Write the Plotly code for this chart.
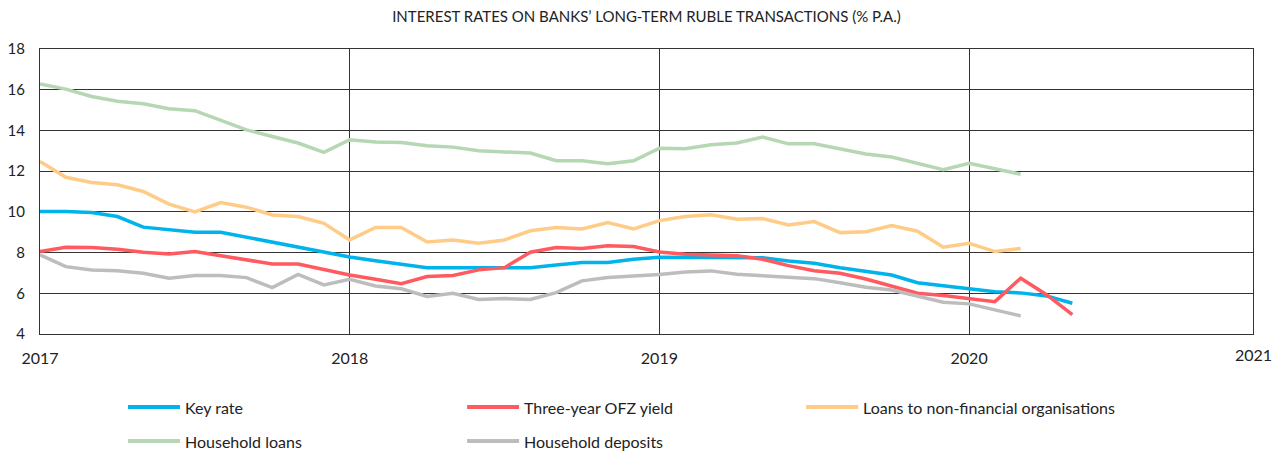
import plotly.graph_objects as go

months = [f"{y}-{m:02d}" for y in (2017, 2018, 2019, 2020) for m in range(1, 13)]
year_ticks = ["2017-01", "2018-01", "2019-01", "2020-01"]
year_labels = ["2017", "2018", "2019", "2020"]
end_label = "2021"

series_names = ["Key rate", "Three-year OFZ yield", "Loans to non-financial organisations",
                "Household loans", "Household deposits"]
colors = ["#00B4EB", "#FF5A5F", "#FFCC88", "#B6D7B4", "#BDBDBD"]

key_rate = [10.02, 10.02, 9.97, 9.77, 9.25, 9.11, 9.0, 9.0, 8.75, 8.49, 8.26, 8.03,
            7.78, 7.60, 7.44, 7.25, 7.25, 7.25, 7.25, 7.25, 7.39, 7.51, 7.51, 7.67,
            7.77, 7.77, 7.77, 7.76, 7.75, 7.59, 7.48, 7.25, 7.07, 6.90, 6.52, 6.38,
            6.25, 6.08, 6.02, 5.87, 5.51]
ofz_yield = [8.05, 8.26, 8.25, 8.16, 8.02, 7.93, 8.05, 7.84, 7.61, 7.44, 7.44, 7.15,
             6.90, 6.69, 6.47, 6.82, 6.87, 7.15, 7.26, 8.02, 8.25, 8.20, 8.33, 8.30,
             8.03, 7.92, 7.88, 7.85, 7.67, 7.36, 7.11, 6.98, 6.70, 6.36, 6.00, 5.89,
             5.72, 5.59, 6.74, 5.93, 4.95]
nfo_loans = [12.48, 11.70, 11.44, 11.33, 11.0, 10.38, 10.0, 10.46, 10.23, 9.85, 9.77, 9.44,
             8.62, 9.23, 9.23, 8.52, 8.62, 8.46, 8.62, 9.07, 9.23, 9.16, 9.48, 9.16,
             9.57, 9.77, 9.86, 9.64, 9.67, 9.36, 9.52, 8.98, 9.02, 9.33, 9.05, 8.26,
             8.46, 8.05, 8.20]
household_loans = [16.28, 16.03, 15.67, 15.43, 15.31, 15.07, 14.97, 14.52, 14.03, 13.70, 13.38, 12.92,
                   13.54, 13.43, 13.41, 13.25, 13.18, 13.0, 12.95, 12.89, 12.51, 12.51, 12.36, 12.51,
                   13.13, 13.10, 13.30, 13.38, 13.67, 13.34, 13.34, 13.08, 12.84, 12.69, 12.39, 12.07,
                   12.39, 12.10, 11.85]
household_deposits = [7.89, 7.31, 7.15, 7.11, 6.98, 6.74, 6.87, 6.87, 6.77, 6.28, 6.93, 6.41,
                      6.69, 6.36, 6.22, 5.84, 6.0, 5.70, 5.74, 5.70, 6.03, 6.61, 6.77, 6.84,
                      6.92, 7.05, 7.10, 6.93, 6.85, 6.77, 6.72, 6.52, 6.30, 6.16, 5.84, 5.56,
                      5.48, 5.18, 4.89]

all_series = [key_rate, ofz_yield, nfo_loans, household_loans, household_deposits]

FONT = "Lato"
OFF = 8  # page body margin
W, H = 1280 - OFF, 455 - OFF
PLOT_L, PLOT_R, PLOT_T, PLOT_B = 40, 1252.7, 49.3, 334  # page pixels
ML = PLOT_L - OFF
MT = PLOT_T - OFF
MR = W - (PLOT_R - OFF)
MB = H - (PLOT_B - OFF)
PW = PLOT_R - PLOT_L
PH = PLOT_B - PLOT_T

fig = go.Figure()
for name, vals, col in zip(series_names, all_series, colors):
    fig.add_trace(go.Scatter(x=months[:len(vals)], y=vals, mode="lines", name=name,
                             line=dict(color=col, width=3.5), showlegend=False))

# manual legend (page pixel anchors)
legend_cols = [128, 467, 806]
legend_rows = [407, 441]
shapes = []
annotations = []
for k, (name, col) in enumerate(zip(series_names, colors)):
    cx = legend_cols[k % 3]
    ry = legend_rows[k // 3]
    x0 = (cx - PLOT_L) / PW
    x1 = (cx + 52 - PLOT_L) / PW
    yp = (PLOT_B - ry) / PH
    shapes.append(dict(type="line", xref="paper", yref="paper", x0=x0, x1=x1, y0=yp, y1=yp,
                       line=dict(color=col, width=4)))
    annotations.append(dict(xref="paper", yref="paper", x=(cx + 55 - PLOT_L) / PW, y=yp,
                            text=name, showarrow=False, xanchor="left", yanchor="middle",
                            font=dict(family=FONT, size=16, color="#222222")))

annotations.append(dict(xref="x", yref="paper", x=months[-1], y=-(354 - PLOT_B) / PH, text=end_label,
                        showarrow=False, xanchor="center", yanchor="middle",
                        font=dict(family=FONT, size=16, color="#222222")))

fig.update_layout(
    width=W, height=H,
    margin=dict(l=ML, r=MR, t=MT, b=MB, autoexpand=False),
    paper_bgcolor="white", plot_bgcolor="white",
    title=dict(text="INTEREST RATES ON BANKS’ LONG-TERM RUBLE TRANSACTIONS (% P.A.)",
               x=0.5, xref="paper", y=1 - (17 - OFF) / H, yref="container",
               xanchor="center", yanchor="middle",
               font=dict(family=FONT, size=15, color="#222222")),
    font=dict(family=FONT, size=15, color="#222222"),
    shapes=shapes,
    annotations=annotations,
    xaxis=dict(type="category", categoryorder="array", categoryarray=months,
               range=[0, len(months) - 1], automargin=False,
               tickvals=year_ticks, ticktext=year_labels, ticks="",
               showgrid=True, gridcolor="#333333", gridwidth=1,
               showline=True, mirror=True, linecolor="#333333", linewidth=1,
               tickfont=dict(family=FONT, size=16, color="#222222"), ticklabelstandoff=10,
               zeroline=False),
    yaxis=dict(range=[4, 18], dtick=2, tick0=4, ticks="", automargin=False,
               showgrid=True, gridcolor="#333333", gridwidth=1,
               showline=True, mirror=True, linecolor="#333333", linewidth=1,
               tickfont=dict(family=FONT, size=15, color="#222222"), ticklabelstandoff=11,
               zeroline=False),
)

fig.write_html("out.html")
